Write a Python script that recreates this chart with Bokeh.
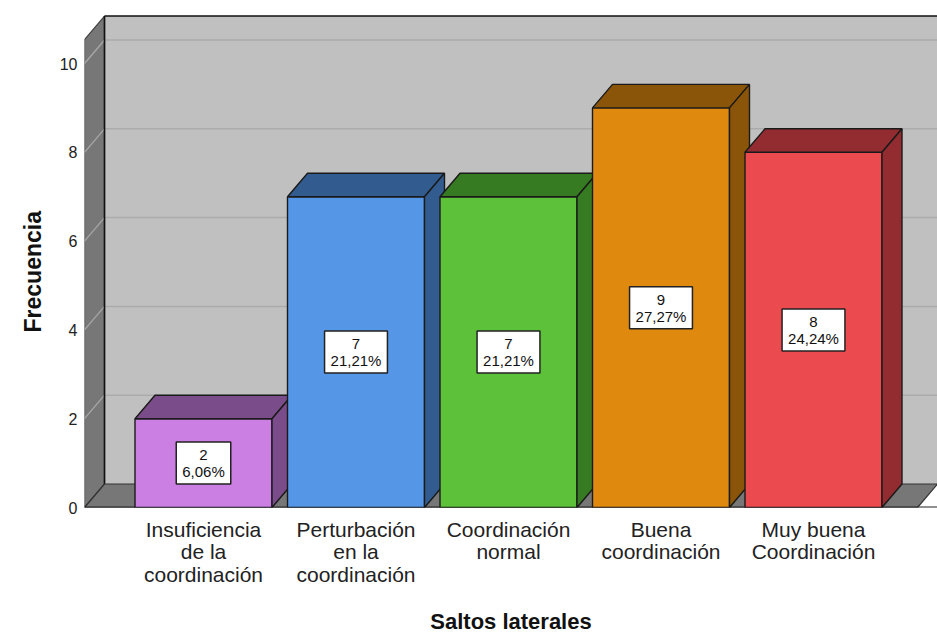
from bokeh.plotting import figure
from bokeh.models import Range1d, FixedTicker, ColumnDataSource, Title
from bokeh.embed import file_html
from bokeh.resources import INLINE
from bokeh.core.properties import value

# ---------------- data ----------------
categories = ["Insuficiencia\nde la\ncoordinación",
              "Perturbación\nen la\ncoordinación",
              "Coordinación\nnormal",
              "Buena\ncoordinación",
              "Muy buena\nCoordinación"]
frecuencias = [2, 7, 7, 9, 8]
porcentajes = ["6,06%", "21,21%", "21,21%", "27,27%", "24,24%"]
y_ticks = [0, 2, 4, 6, 8, 10]
x_title = "Saltos laterales"
y_title = "Frecuencia"

front_colors = ["#CB7FE3", "#5596E6", "#5DC23A", "#DF8A0F", "#EB4A4E"]
dark_colors = ["#7B4C8A", "#325C8F", "#367A22", "#8A5508", "#922C30"]

# ---------------- geometry (pixel scale of the frame) ----------------
PX_X = 152.5          # pixels per category step
PX_Y = 44.4           # pixels per count unit
FRAME_W = 853
FRAME_H = 497
X0 = -119 / PX_X      # left front edge of the chart box
X1 = X0 + FRAME_W / PX_X
DX = 20 / PX_X        # depth offset (x)
DY = 23.5 / PX_Y      # depth offset (y)
BAR_W = 137 / PX_X
TOP = 10.54           # top of the chart box (front)

FONT = "Liberation Sans"

p = figure(width=937, height=637,
           x_range=Range1d(X0, X1), y_range=Range1d(0, FRAME_H / PX_Y),
           output_backend="svg", toolbar_location=None,
           min_border_left=84, min_border_right=0,
           min_border_top=10, min_border_bottom=130)
p.outline_line_color = None
p.background_fill_color = "white"
p.border_fill_color = "white"
p.grid.visible = False

# back wall
p.quad(left=[X0 + DX], right=[X1 + 1], bottom=[DY], top=[TOP + DY],
       fill_color="#C0C0C0", line_color=None)
# back-wall grid lines
grid_vals = [v for v in y_ticks if v > 0]
p.segment(x0=[X0 + DX] * len(grid_vals), x1=[X1 + 1] * len(grid_vals),
          y0=[v + DY for v in grid_vals], y1=[v + DY for v in grid_vals],
          line_color="#ABABAB", line_width=1.5)
# back wall top border
p.segment(x0=[X0 + DX], x1=[X1 + 1], y0=[TOP + DY], y1=[TOP + DY],
          line_color="#111111", line_width=1.5)

# left wall
p.patch(x=[X0, X0 + DX, X0 + DX, X0], y=[0, DY, TOP + DY, TOP],
        fill_color="#777777", line_color="#444444", line_width=1.2)
# left-wall grid lines
p.segment(x0=[X0] * len(grid_vals), x1=[X0 + DX] * len(grid_vals),
          y0=grid_vals, y1=[v + DY for v in grid_vals],
          line_color="#A8A8A8", line_width=1.3)
# back corner line
p.segment(x0=[X0 + DX], x1=[X0 + DX], y0=[DY], y1=[TOP + DY],
          line_color="#111111", line_width=1.6)

# floor
p.patch(x=[X0, X1 - DX, X1, X0 + DX], y=[0, 0, DY, DY],
        fill_color="#777777", line_color="#333333", line_width=1.2)
p.segment(x0=[X0], x1=[X1], y0=[0], y1=[0], line_color="#222222", line_width=2)

# bars (front, top, side) drawn left to right
xs = list(range(len(categories)))
for i, (xc, v) in enumerate(zip(xs, frecuencias)):
    l, r = xc - BAR_W / 2, xc + BAR_W / 2
    p.quad(left=[l], right=[r], bottom=[0], top=[v],
           fill_color=front_colors[i], line_color="#1a1a1a", line_width=1.4)
    p.patch(x=[l, r, r + DX, l + DX], y=[v, v, v + DY, v + DY],
            fill_color=dark_colors[i], line_color="#1a1a1a", line_width=1.4)
    p.patch(x=[r, r + DX, r + DX, r], y=[0, DY, v + DY, v],
            fill_color=dark_colors[i], line_color="#1a1a1a", line_width=1.4)

# value labels
src = ColumnDataSource(dict(
    x=xs,
    y=[v / 2 for v in frecuencias],
    t=[f"{v}\n{pc}" for v, pc in zip(frecuencias, porcentajes)],
))
p.text(x="x", y="y", text="t", source=src,
       text_font=value(FONT), text_font_size="15px", text_color="#111111",
       text_align="center", text_baseline="middle", text_line_height=1.0,
       background_fill_color="white", border_line_color="#222222",
       border_line_width=1.5,
       padding=dict(left=6, right=6, top=4, bottom=4))

# axes
p.xaxis.ticker = FixedTicker(ticks=xs)
p.xaxis.major_label_overrides = {i: c for i, c in enumerate(categories)}
p.xaxis.axis_line_color = None
p.xaxis.major_tick_line_color = None
p.xaxis.minor_tick_line_color = None
p.xaxis.major_tick_out = 0
p.xaxis.major_tick_in = 0
p.xaxis.major_label_text_font = FONT
p.xaxis.major_label_text_font_size = "21px"
p.xaxis.major_label_text_line_height = 0.98
p.xaxis.major_label_text_color = "#222222"
p.xaxis.major_label_standoff = 10
p.xaxis.axis_label = x_title
p.xaxis.axis_label_text_font = FONT
p.xaxis.axis_label_text_font_style = "bold"
p.xaxis.axis_label_text_font_size = "22px"
p.xaxis.axis_label_text_color = "#111111"
p.xaxis.axis_label_standoff = 20

p.yaxis.ticker = FixedTicker(ticks=y_ticks)
p.yaxis.axis_line_color = None
p.yaxis.major_tick_line_color = None
p.yaxis.minor_tick_line_color = None
p.yaxis.major_label_text_font = FONT
p.yaxis.major_label_text_font_size = "16px"
p.yaxis.major_label_text_color = "#222222"
p.yaxis.major_label_standoff = 1

# y title as a side title, placed along the front wall
p.add_layout(Title(text=y_title, align="left", offset=175, vertical_align="top",
                   standoff=18, text_font=FONT, text_font_style="bold",
                   text_font_size="23px", text_color="#111111"), "left")

open("out.html", "w").write(file_html(p, INLINE))
